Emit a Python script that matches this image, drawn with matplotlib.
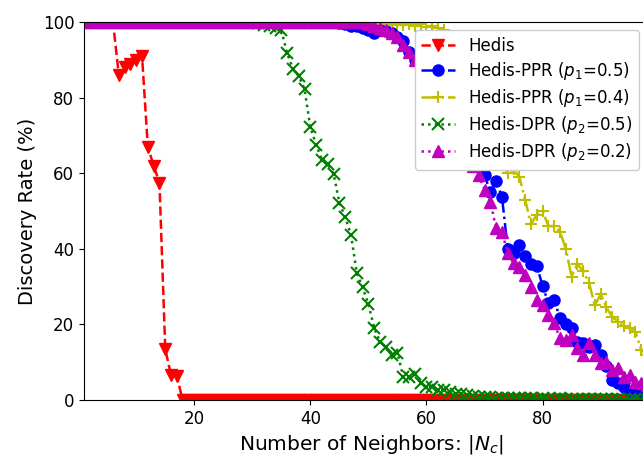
import numpy as np
import matplotlib
matplotlib.use('Agg')
import matplotlib.pyplot as plt


# liczba sasiadow |N_c|
sasiedzi = np.arange(1, 101)

# Hedis
hedis = [100, 100, 100, 100, 100, 100, 86, 88, 89, 90,
         91, 67, 62, 57.5, 13.5, 6.5, 6.3, 0, 0, 0,
         0, 0, 0, 0, 0, 0, 0, 0, 0, 0,
         0, 0, 0, 0, 0, 0, 0, 0, 0, 0,
         0, 0, 0, 0, 0, 0, 0, 0, 0, 0,
         0, 0, 0, 0, 0, 0, 0, 0, 0, 0,
         0, 0, 0, 0, 0, 0, 0, 0, 0, 0,
         0, 0, 0, 0, 0, 0, 0, 0, 0, 0,
         0, 0, 0, 0, 0, 0, 0, 0, 0, 0,
         0, 0, 0, 0, 0, 0, 0, 0, 0, 0]

# Hedis-PPR, p1 = 0.5
ppr_05 = [100, 100, 100, 100, 100, 100, 100, 100, 100, 100,
          100, 100, 100, 100, 100, 100, 100, 100, 100, 100,
          100, 100, 100, 100, 100, 100, 100, 100, 100, 100,
          100, 100, 100, 100, 100, 100, 100, 100, 100, 100,
          100, 100, 100, 100, 99.7, 99.5, 99, 99, 98.5, 98,
          97, 98, 97.5, 97, 96, 95, 92, 90, 89, 87,
          85, 83, 80, 78, 75, 72, 69, 66, 63, 59.5,
          55, 57.8, 53.8, 40, 39, 41, 38, 36, 35.5, 30.2,
          25.6, 26.5, 21.6, 20, 19, 15.4, 15, 14, 14.6, 12,
          9, 5.3, 4.5, 3.5, 2.2, 2, 2.2, 1.5, 1, 1]

# Hedis-PPR, p1 = 0.4
ppr_04 = [100, 100, 100, 100, 100, 100, 100, 100, 100, 100,
          100, 100, 100, 100, 100, 100, 100, 100, 100, 100,
          100, 100, 100, 100, 100, 100, 100, 100, 100, 100,
          100, 100, 100, 100, 100, 100, 100, 100, 100, 100,
          100, 100, 100, 100, 100, 100, 100, 100, 100, 100,
          99.8, 99.5, 99.8, 99.3, 99.6, 99.2, 99.5, 99, 99.4, 98.8,
          99, 98.5, 98, 96, 93, 90, 87, 83, 79, 75,
          71, 67, 63, 60, 61, 59, 53, 46.5, 49, 50,
          46, 46, 44.5, 40, 32.6, 36, 34, 31, 25, 28,
          24.5, 22, 20.7, 19.5, 19, 18, 13.2, 12, 10, 9]

# Hedis-DPR, p2 = 0.5
dpr_05 = [100, 100, 100, 100, 100, 100, 100, 100, 100, 100,
          100, 100, 100, 100, 100, 100, 100, 100, 100, 100,
          100, 100, 100, 100, 100, 100, 100, 100, 100, 100,
          99.7, 99.3, 99, 98.5, 97.8, 91.7, 87.6, 85.7, 82.2, 72.1,
          67.5, 63.5, 62.4, 59.8, 52.2, 48.3, 43.7, 33.5, 29.8, 25.4,
          19, 15.4, 14.1, 11.9, 12.4, 6.2, 6.2, 6.9, 4.4, 3.5,
          3.5, 2.6, 2.6, 2, 1.6, 1.5, 1.2, 1, 0.9, 0.8,
          0.7, 0.6, 0.6, 0.5, 0.5, 0.4, 0.5, 0.4, 0.3, 0.4,
          0.3, 0.3, 0.4, 0.3, 0.3, 0.2, 0.3, 0.2, 0.2, 0.3,
          0.2, 0.2, 0.2, 0.1, 0.2, 0.2, 0.1, 0.1, 0.2, 0.1]

# Hedis-DPR, p2 = 0.2
dpr_02 = [100, 100, 100, 100, 100, 100, 100, 100, 100, 100,
          100, 100, 100, 100, 100, 100, 100, 100, 100, 100,
          100, 100, 100, 100, 100, 100, 100, 100, 100, 100,
          100, 100, 100, 100, 100, 100, 100, 100, 100, 100,
          100, 100, 100, 100, 100, 100, 100, 100, 100, 99.5,
          99, 98.5, 98, 97, 96, 94, 92, 90, 88, 85,
          83, 80, 77, 74, 71, 68, 65, 62, 59.5, 55.6,
          52.5, 45.4, 44.5, 38.8, 36.2, 35.3, 33, 30, 26.5, 25,
          22.5, 20.3, 16.3, 16, 17.2, 13.7, 11.9, 15, 11.9, 9.7,
          10.1, 7.9, 8.4, 6.2, 6.6, 4.8, 4.5, 4, 3.5, 3]


fig = plt.figure(figsize=(6.43, 4.55), dpi=100)
# os x wychodzi poza prawa krawedz rysunku
ax = fig.add_axes([0.1306, 0.1209, 0.8938, 0.8308])

ax.plot(sasiedzi, hedis, 'r--v', lw=1.8, ms=8, label='Hedis')
ax.plot(sasiedzi, ppr_05, 'b-.o', lw=1.8, ms=8, label=r'Hedis-PPR ($p_1$=0.5)')
ax.plot(sasiedzi, ppr_04, 'y-.+', lw=1.8, ms=9, mew=1.5, label=r'Hedis-PPR ($p_1$=0.4)')
ax.plot(sasiedzi, dpr_05, 'g:x', lw=1.8, ms=8, mew=1.5, label=r'Hedis-DPR ($p_2$=0.5)')
ax.plot(sasiedzi, dpr_02, 'm:^', lw=1.8, ms=8, label=r'Hedis-DPR ($p_2$=0.2)')

ax.set_xlim(1, 100)
ax.set_ylim(0, 100)
ax.set_xticks([20, 40, 60, 80])
ax.set_yticks([0, 20, 40, 60, 80, 100])
ax.tick_params(labelsize=12)
ax.set_xlabel(r'Number of Neighbors: $|N_c|$', fontsize=14.5)
ax.set_ylabel('Discovery Rate (%)', fontsize=14)
ax.legend(loc='upper right', bbox_to_anchor=(0.981, 1.0), fontsize=12,
          labelspacing=0.3, framealpha=1)

plt.savefig('out.png', dpi=100)
